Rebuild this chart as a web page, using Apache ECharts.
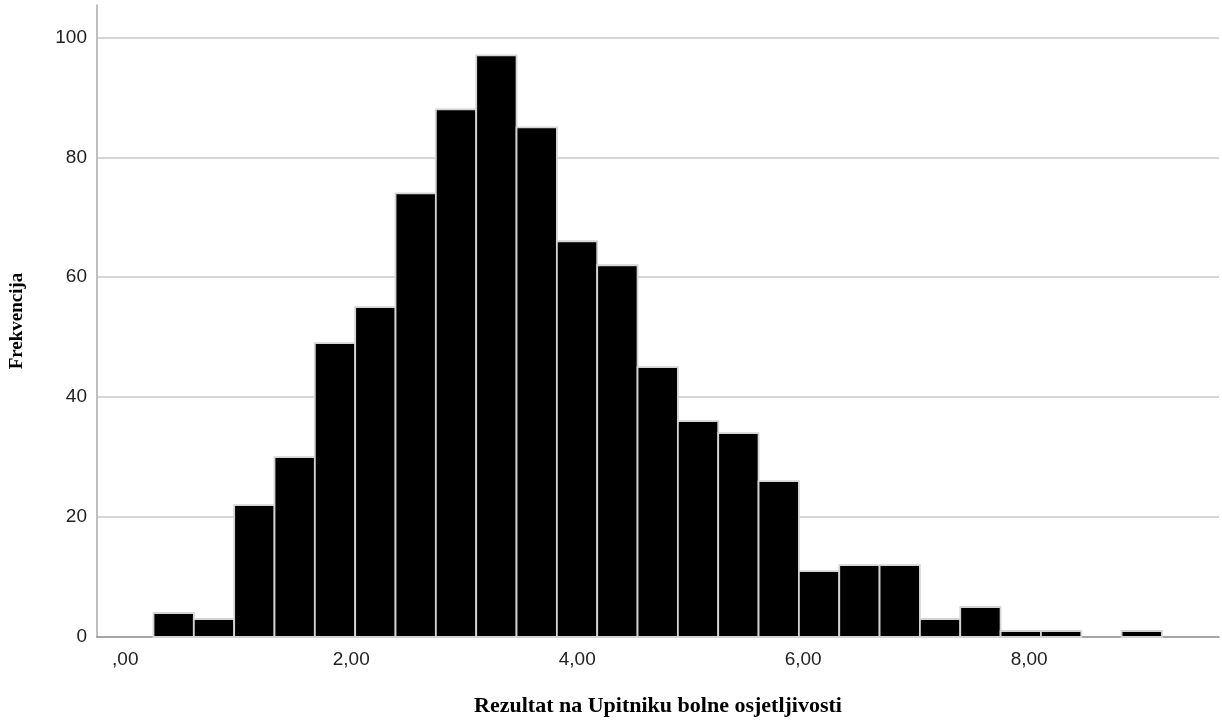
<!DOCTYPE html>
<html>
<head>
<meta charset="utf-8">
<script src="https://cdn.jsdelivr.net/npm/echarts@6/dist/echarts.min.js"></script>
<style>html,body{margin:0;padding:0;background:#fff}#c{width:1222px;height:722px}</style>
</head>
<body>
<div id="c"></div>
<script>
// Histogram data
const binStart = 0.25;
const binWidth = 0.357;
const counts = [4, 3, 22, 30, 49, 55, 74, 88, 97, 85, 66, 62, 45, 36, 34, 26, 11, 12, 12, 3, 5, 1, 1, 0, 1];
const xTicks = [0, 2, 4, 6, 8];
const yTicks = [0, 20, 40, 60, 80, 100];
const xTitle = 'Rezultat na Upitniku bolne osjetljivosti';
const yTitle = 'Frekvencija';

const bins = counts.map((c, i) => [binStart + i * binWidth, binStart + (i + 1) * binWidth, c]);

const fmtX = v => {
  const s = Number(v).toFixed(2).replace('.', ',');
  return Math.abs(v) < 1e-9 ? s.slice(1) : s;
};

const chart = echarts.init(document.getElementById('c'), null, {renderer: 'canvas'});
chart.setOption({
  animation: false,
  grid: {left: 96.5, right: 3, top: 5, bottom: 82, containLabel: false},
  xAxis: {
    type: 'value', min: -0.25, max: 9.68,
    name: xTitle, nameLocation: 'middle', nameGap: 58,
    nameTextStyle: {fontFamily: 'Liberation Serif', fontWeight: 'bold', fontSize: 22, color: '#000'},
    axisLine: {show: true, onZero: false, lineStyle: {color: '#888', width: 1.5}},
    axisTick: {show: false},
    splitLine: {show: false},
    axisLabel: {
      margin: 13, fontFamily: 'Liberation Sans', fontSize: 19, color: '#222',
      customValues: xTicks,
      formatter: fmtX
    }
  },
  yAxis: {
    type: 'value', min: 0, max: 105.4,
    name: yTitle, nameLocation: 'middle', nameGap: 70, nameRotate: 90,
    nameTextStyle: {fontFamily: 'Liberation Serif', fontWeight: 'bold', fontSize: 19, color: '#000'},
    axisLine: {show: true, onZero: false, lineStyle: {color: '#aaa', width: 1.5}},
    axisTick: {show: false},
    splitLine: {show: false},
    axisLabel: {
      margin: 10, fontFamily: 'Liberation Sans', fontSize: 19, color: '#222',
      customValues: yTicks,
      formatter: v => String(v)
    }
  },
  series: [{
    type: 'line',
    data: [],
    z: 1,
    silent: true,
    markLine: {
      z: 1,
      silent: true,
      symbol: 'none',
      label: {show: false},
      lineStyle: {type: 'solid', color: '#c8c8c8', width: 1.5},
      data: yTicks.filter(t => t > 0).map(t => ({yAxis: t}))
    }
  }, {
    type: 'custom',
    z: 10,
    data: bins,
    encode: {x: [0, 1], y: 2},
    renderItem: (params, api) => {
      if (api.value(2) <= 0) return null;
      const p0 = api.coord([api.value(0), api.value(2)]);
      const p1 = api.coord([api.value(1), 0]);
      return {
        type: 'rect',
        shape: {x: p0[0], y: p0[1], width: p1[0] - p0[0], height: p1[1] - p0[1]},
        style: {fill: '#000', stroke: '#d4d4d4', lineWidth: 1.8}
      };
    }
  }]
});
</script>
</body>
</html>
